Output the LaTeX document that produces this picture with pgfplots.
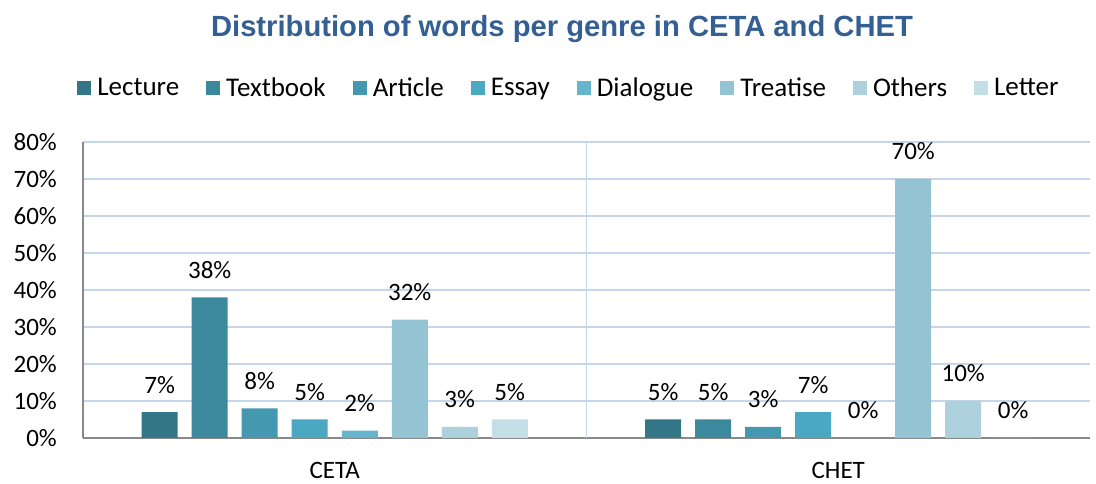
\documentclass[border=0pt]{standalone}
\usepackage{fontspec}
\setmainfont{Carlito}
\newfontfamily\titlefont{Liberation Sans}
\usepackage{pgfplots}
\pgfplotsset{compat=1.18}
\definecolor{c1}{RGB}{51,118,135}
\definecolor{c2}{RGB}{60,137,158}
\definecolor{c3}{RGB}{68,152,176}
\definecolor{c4}{RGB}{75,168,194}
\definecolor{c5}{RGB}{103,180,205}
\definecolor{c6}{RGB}{148,195,212}
\definecolor{c7}{RGB}{172,208,220}
\definecolor{c8}{RGB}{196,222,229}
\definecolor{titleblue}{RGB}{51,95,146}
\definecolor{gridblue}{RGB}{197,213,234}
\definecolor{axisgray}{RGB}{137,137,137}
\begin{document}
\begin{tikzpicture}[x=1pt,y=1pt]
\useasboundingbox (0,0) rectangle (1096,484);
\node[anchor=base, font=\titlefont\bfseries\fontsize{29.2}{31}\selectfont, text=titleblue, inner sep=0pt] at (562,447) {Distribution of words per genre in CETA and CHET};
\begin{axis}[
  at={(83pt,46pt)}, anchor=south west,
  scale only axis, width=1007pt, height=296pt,
  ybar=14pt, bar width=36pt,
  xmin=-0.5, xmax=1.5, ymin=0, ymax=80,
  xtick={0,1}, xticklabels={CETA,CHET},
  ytick={0,10,...,80},
  yticklabel={\pgfmathprintnumber{\tick}\%},
  /pgf/number format/assume math mode=true,
  ymajorgrids,
  major grid style={gridblue, line width=1.5pt},
  extra x ticks={0.5}, extra x tick labels={},
  extra x tick style={grid=major},
  major tick length=0pt,
  axis x line*=bottom, axis y line*=left,
  axis line style={axisgray, line width=1.5pt},
  tick label style={font=\fontsize{25}{28}\selectfont, text=black, inner sep=0pt},
  yticklabel style={xshift=-26pt},
  xticklabel style={anchor=base, yshift=-41pt},
  nodes near coords={\pgfmathprintnumber{\pgfplotspointmeta}\%},
  every node near coord/.append style={anchor=base, inner sep=0pt, yshift=19pt, font=\fontsize{25}{28}\selectfont, text=black},
  legend image code/.code={\fill[#1] (0pt,-7pt) rectangle (14pt,7pt);},
  legend style={at={(0.4825,1.183)}, anchor=center, draw=none, fill=none,
    font=\fontsize{27}{30}\selectfont, legend columns=8,
    /tikz/every odd column/.append style={column sep=4pt},
    /tikz/every even column/.append style={column sep=25pt},
    nodes={inner xsep=2pt, inner ysep=2pt}},
]
\addplot[fill=c1, draw=none] coordinates {(0,7) (1,5)};
\addplot[fill=c2, draw=none] coordinates {(0,38) (1,5)};
\addplot[fill=c3, draw=none] coordinates {(0,8) (1,3)};
\addplot[fill=c4, draw=none] coordinates {(0,5) (1,7)};
\addplot[fill=c5, draw=none] coordinates {(0,2) (1,0)};
\addplot[fill=c6, draw=none] coordinates {(0,32) (1,70)};
\addplot[fill=c7, draw=none] coordinates {(0,3) (1,10)};
\addplot[fill=c8, draw=none] coordinates {(0,5) (1,0)};
\legend{Lecture,Textbook,Article,Essay,Dialogue,Treatise,Others,Letter}
\end{axis}
\end{tikzpicture}
\end{document}
